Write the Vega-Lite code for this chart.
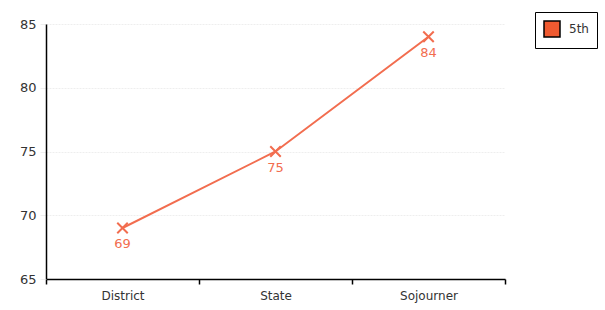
{
  "$schema": "https://vega.github.io/schema/vega-lite/v6.json",
  "width": 459,
  "height": 255,
  "autosize": {"type": "none"},
  "padding": {"left": 46, "top": 24, "right": 100, "bottom": 31},
  "background": "white",
  "config": {
    "font": "DejaVu Sans",
    "view": {"stroke": null}
  },
  "data": {
    "values": [
      {"place": "District", "score": 69, "grade": "5th"},
      {"place": "State", "score": 75, "grade": "5th"},
      {"place": "Sojourner", "score": 84, "grade": "5th"}
    ]
  },
  "encoding": {
    "x": {
      "field": "place", "type": "nominal", "sort": null,
      "scale": {"paddingInner": 0, "paddingOuter": 0},
      "axis": {
        "title": null, "labelAngle": 0, "tickBand": "extent",
        "domainColor": "#000", "domainWidth": 1.5, "tickColor": "#000", "tickWidth": 1.5, "tickSize": 5,
        "labelColor": "#333", "labelFontSize": 12, "labelPadding": 6, "grid": false
      }
    },
    "y": {
      "field": "score", "type": "quantitative",
      "scale": {"domain": [65, 85], "nice": false, "zero": false},
      "axis": {
        "title": null, "values": [65, 70, 75, 80, 85],
        "domainColor": "#000", "domainWidth": 1.5,
        "tickColor": "#eee", "tickSize": 6, "labelPadding": 4,
        "labelColor": "#333", "labelFontSize": 13,
        "grid": true, "gridColor": "#eee", "gridDash": [2, 1]
      }
    }
  },
  "layer": [
    {
      "mark": {"type": "line", "color": "#f26d4f", "strokeWidth": 2}
    },
    {
      "mark": {"type": "point", "shape": "M-1,-1L1,1M-1,1L1,-1", "filled": false, "size": 110, "strokeWidth": 2, "opacity": 1},
      "encoding": {
        "fill": {
          "field": "grade", "type": "nominal",
          "scale": {"range": ["#f05a30"]},
          "legend": {
            "title": null, "orient": "none", "legendX": 489, "legendY": -12,
            "symbolType": "square", "symbolSize": 256, "symbolStrokeColor": "#000", "symbolStrokeWidth": 1.5,
            "symbolFillColor": "#f05a30", "symbolOpacity": 1,
            "labelFontSize": 12, "labelColor": "#333", "labelOffset": 8,
            "strokeColor": "#000", "padding": 8, "fillColor": "white"
          }
        },
        "stroke": {"value": "#f26d4f"}
      }
    },
    {
      "mark": {"type": "text", "dy": 16, "fontSize": 13, "color": "#f26d4f"},
      "encoding": {"text": {"field": "score", "type": "quantitative"}}
    }
  ]
}
